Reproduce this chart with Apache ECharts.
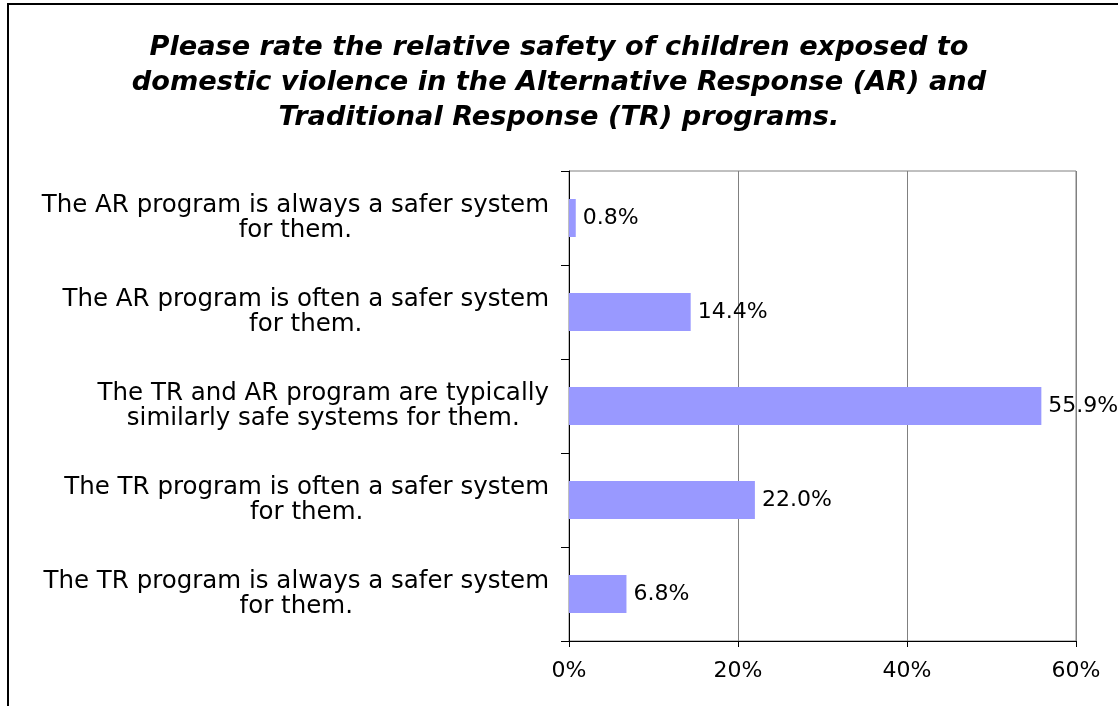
<!DOCTYPE html>
<html>
<head>
<meta charset="utf-8">
<script src="https://cdn.jsdelivr.net/npm/echarts@6/dist/echarts.min.js"></script>
<style>
  html, body { margin: 0; padding: 0; background: #ffffff; }
  #chart { width: 1118px; height: 706px; }
</style>
</head>
<body>
<div id="chart"></div>
<script>
// Response options, listed top to bottom
const categories = [
  'The AR program is always a safer system\nfor them.',
  'The AR program is often a safer system\nfor them.',
  'The TR and AR program are typically\nsimilarly safe systems for them.',
  'The TR program is often a safer system\nfor them.',
  'The TR program is always a safer system\nfor them.'
];
// Share of respondents (%)
const shares = [0.8, 14.4, 55.9, 22.0, 6.8];
// Percentage axis ticks
const axisTicks = [0, 20, 40, 60];

const titleText = 'Please rate the relative safety of children exposed to\n' +
  'domestic violence in the Alternative Response (AR) and\n' +
  'Traditional Response (TR) programs.';

const font = '"DejaVu Sans", Verdana, sans-serif';
const chart = echarts.init(document.getElementById('chart'), null, { renderer: 'canvas' });

chart.setOption({
  animation: false,
  backgroundColor: '#ffffff',
  title: {
    text: titleText,
    left: 'center',
    top: 25,
    textStyle: {
      fontFamily: font,
      fontSize: 27.2,
      fontWeight: 'bold',
      fontStyle: 'italic',
      color: '#000000',
      lineHeight: 35
    }
  },
  graphic: [{
    type: 'rect',
    silent: true,
    shape: { x: 8, y: 4, width: 1200, height: 800 },
    style: { fill: 'none', stroke: '#000000', lineWidth: 2 }
  }],
  grid: {
    left: 569,
    top: 171,
    width: 507,
    height: 470,
    show: true,
    borderColor: '#808080',
    borderWidth: 1,
    backgroundColor: 'transparent'
  },
  xAxis: {
    type: 'value',
    min: axisTicks[0],
    max: axisTicks[axisTicks.length - 1],
    interval: axisTicks[1] - axisTicks[0],
    axisLine: { show: true, lineStyle: { color: '#000000', width: 1 } },
    axisTick: { show: true, length: 6, lineStyle: { color: '#000000' } },
    splitLine: { show: true, lineStyle: { color: '#808080', width: 1 } },
    axisLabel: {
      margin: 19,
      fontFamily: font,
      fontSize: 22,
      color: '#000000',
      formatter: '{value}%'
    }
  },
  yAxis: {
    type: 'category',
    inverse: true,
    data: categories,
    axisLine: { show: true, lineStyle: { color: '#000000', width: 1 } },
    axisTick: { show: true, length: 8, lineStyle: { color: '#000000' } },
    splitLine: { show: false },
    axisLabel: {
      margin: 20,
      fontFamily: font,
      fontSize: 24.5,
      color: '#000000',
      lineHeight: 25,
      formatter: function (v) {
        return v.split('\n').map(function (l) { return '{c|' + l + '}'; }).join('\n');
      },
      rich: {
        c: { align: 'center', fontFamily: font, fontSize: 24.5, lineHeight: 25, color: '#000000' }
      }
    }
  },
  series: [{
    type: 'bar',
    data: shares,
    barWidth: 38,
    itemStyle: { color: '#9999ff' },
    label: {
      show: true,
      position: 'right',
      distance: 7,
      fontFamily: font,
      fontSize: 22,
      color: '#000000',
      formatter: function (p) { return p.value.toFixed(1) + '%'; }
    }
  }]
});
</script>
</body>
</html>
